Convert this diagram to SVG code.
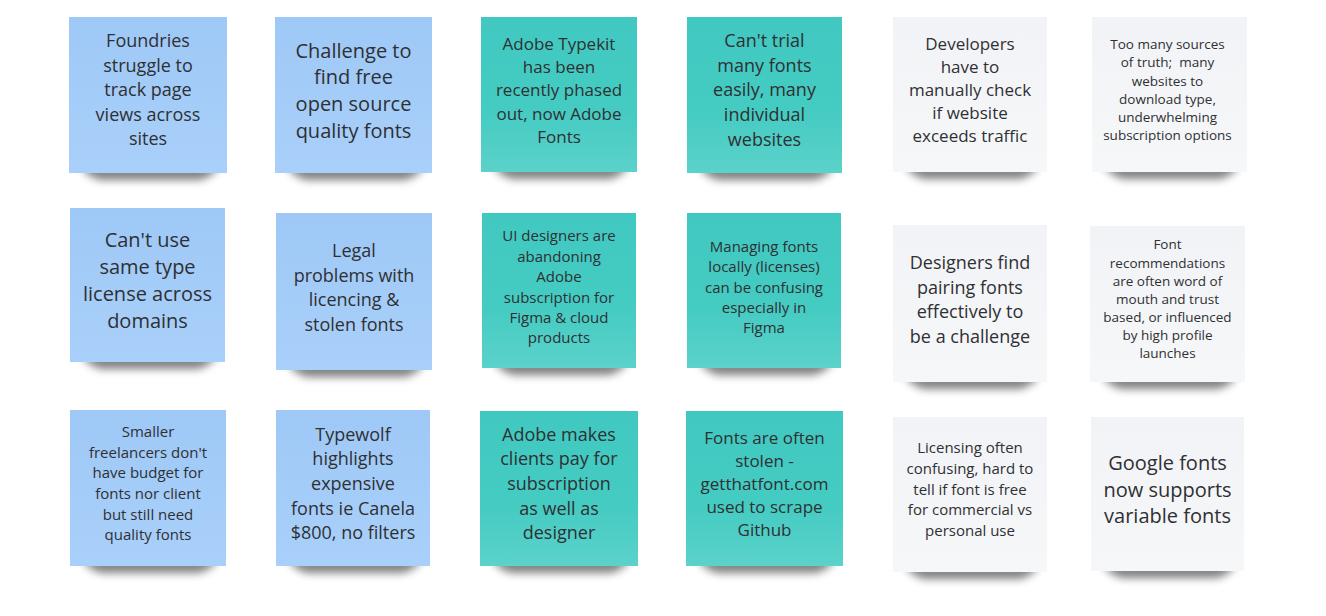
<svg xmlns="http://www.w3.org/2000/svg" width="1326" height="616" viewBox="0 0 1326 616">
<style>
text{font-family:"Open Sans","Noto Sans","Liberation Sans",sans-serif;fill:#2f3033;text-anchor:middle}
.s20{font-size:20px}.s18{font-size:18px}.s17{font-size:17px}.s15{font-size:15px}.s13{font-size:13.5px}
.blue{fill:url(#gBlue)}.teal{fill:url(#gTeal)}.white{fill:url(#gWhite)}
.sh{fill:#000;opacity:0.5;filter:url(#blur)}
</style>
<defs>
<linearGradient id="gBlue" x1="0" y1="0" x2="0" y2="1"><stop offset="0" stop-color="#9ec8f6"/><stop offset="1" stop-color="#a9d0fa"/></linearGradient>
<linearGradient id="gTeal" x1="0" y1="0" x2="0" y2="1"><stop offset="0" stop-color="#41c9c1"/><stop offset="0.6" stop-color="#44cbc2"/><stop offset="1" stop-color="#5bd2ca"/></linearGradient>
<linearGradient id="gWhite" x1="0" y1="0" x2="0" y2="1"><stop offset="0" stop-color="#f2f3f6"/><stop offset="1" stop-color="#f6f7f9"/></linearGradient>
<filter id="blur" x="-20%" y="-100%" width="140%" height="300%"><feGaussianBlur stdDeviation="4.5"/></filter>
</defs>

<g id="note1"><path class="sh" d="M81 166 H219 Q214 176 200 180 H100 Q86 176 81 166Z"/><rect class="blue" x="69" y="17" width="158" height="156"/>
<text class="s18"><tspan x="148" y="47">Foundries</tspan><tspan x="148" y="71.5">struggle to</tspan><tspan x="148" y="96">track page</tspan><tspan x="148" y="120.5">views across</tspan><tspan x="148" y="145">sites</tspan></text></g>

<g id="note2"><path class="sh" d="M287 166 H424 Q419 176 405 180 H306 Q292 176 287 166Z"/><rect class="blue" x="275" y="17" width="157" height="156"/>
<text class="s20"><tspan x="353.5" y="57.5">Challenge to</tspan><tspan x="353.5" y="84.3">find free</tspan><tspan x="353.5" y="111.1">open source</tspan><tspan x="353.5" y="138">quality fonts</tspan></text></g>

<g id="note3"><path class="sh" d="M493 165 H629 Q624 175 610 179 H512 Q498 175 493 165Z"/><rect class="teal" x="481" y="17" width="156" height="155"/>
<text class="s17"><tspan x="559" y="50">Adobe Typekit</tspan><tspan x="559" y="73.2">has been</tspan><tspan x="559" y="96.4">recently phased</tspan><tspan x="559" y="119.6">out, now Adobe</tspan><tspan x="559" y="142.8">Fonts</tspan></text></g>

<g id="note4"><path class="sh" d="M699 166 H834 Q829 176 815 180 H718 Q704 176 699 166Z"/><rect class="teal" x="687" y="17" width="155" height="156"/>
<text class="s18"><tspan x="764.5" y="46.7">Can't trial</tspan><tspan x="764.5" y="71.5">many fonts</tspan><tspan x="764.5" y="96.3">easily, many</tspan><tspan x="764.5" y="121.1">individual</tspan><tspan x="764.5" y="146">websites</tspan></text></g>

<g id="note5"><path class="sh" d="M905 165 H1039 Q1034 175 1020 179 H924 Q910 175 905 165Z"/><rect class="white" x="893" y="17" width="154" height="155"/>
<text class="s17"><tspan x="970" y="50">Developers</tspan><tspan x="970" y="73.1">have to</tspan><tspan x="970" y="96.2">manually check</tspan><tspan x="970" y="119.3">if website</tspan><tspan x="970" y="142.3">exceeds traffic</tspan></text></g>

<g id="note6"><path class="sh" d="M1104 165 H1239 Q1234 175 1220 179 H1123 Q1109 175 1104 165Z"/><rect class="white" x="1092" y="17" width="155" height="155"/>
<text class="s13"><tspan x="1167.5" y="49.3">Too many sources</tspan><tspan x="1167.5" y="67.4">of truth;&#160; many</tspan><tspan x="1167.5" y="85.5">websites to</tspan><tspan x="1167.5" y="103.6">download type,</tspan><tspan x="1167.5" y="121.8">underwhelming</tspan><tspan x="1167.5" y="140">subscription options</tspan></text></g>

<g id="note7"><path class="sh" d="M82 355 H217 Q212 365 198 369 H101 Q87 365 82 355Z"/><rect class="blue" x="70" y="208" width="155" height="154"/>
<text class="s20"><tspan x="147.5" y="246.7">Can't use</tspan><tspan x="147.5" y="273.9">same type</tspan><tspan x="147.5" y="301.1">license across</tspan><tspan x="147.5" y="328.3">domains</tspan></text></g>

<g id="note8"><path class="sh" d="M288 363 H424 Q419 373 405 377 H307 Q293 373 288 363Z"/><rect class="blue" x="276" y="213" width="156" height="157"/>
<text class="s18"><tspan x="354" y="256.7">Legal</tspan><tspan x="354" y="281.5">problems with</tspan><tspan x="354" y="306.2">licencing &amp;</tspan><tspan x="354" y="331">stolen fonts</tspan></text></g>

<g id="note9"><path class="sh" d="M494 361 H628 Q623 371 609 375 H513 Q499 371 494 361Z"/><rect class="teal" x="482" y="213" width="154" height="155"/>
<text class="s15"><tspan x="559" y="241">UI designers are</tspan><tspan x="559" y="261.5">abandoning</tspan><tspan x="559" y="282">Adobe</tspan><tspan x="559" y="302.5">subscription for</tspan><tspan x="559" y="323">Figma &amp; cloud</tspan><tspan x="559" y="343.3">products</tspan></text></g>

<g id="note10"><path class="sh" d="M699 361 H833 Q828 371 814 375 H718 Q704 371 699 361Z"/><rect class="teal" x="687" y="213" width="154" height="155"/>
<text class="s15"><tspan x="764" y="251.7">Managing fonts</tspan><tspan x="764" y="272.1">locally (licenses)</tspan><tspan x="764" y="292.5">can be confusing</tspan><tspan x="764" y="312.9">especially in</tspan><tspan x="764" y="333.3">Figma</tspan></text></g>

<g id="note11"><path class="sh" d="M905 375 H1039 Q1034 385 1020 389 H924 Q910 385 905 375Z"/><rect class="white" x="893" y="225" width="154" height="157"/>
<text class="s18"><tspan x="970" y="269.3">Designers find</tspan><tspan x="970" y="293.8">pairing fonts</tspan><tspan x="970" y="318.2">effectively to</tspan><tspan x="970" y="342.7">be a challenge</tspan></text></g>

<g id="note12"><path class="sh" d="M1102 375 H1237 Q1232 385 1218 389 H1121 Q1107 385 1102 375Z"/><rect class="white" x="1090" y="226" width="155" height="156"/>
<text class="s13"><tspan x="1167.5" y="249.3">Font</tspan><tspan x="1167.5" y="267.5">recommendations</tspan><tspan x="1167.5" y="285.7">are often word of</tspan><tspan x="1167.5" y="303.8">mouth and trust</tspan><tspan x="1167.5" y="322">based, or influenced</tspan><tspan x="1167.5" y="340.2">by high profile</tspan><tspan x="1167.5" y="358.3">launches</tspan></text></g>

<g id="note13"><path class="sh" d="M82 559 H218 Q213 569 199 573 H101 Q87 569 82 559Z"/><rect class="blue" x="70" y="410" width="156" height="156"/>
<text class="s15"><tspan x="148" y="437.3">Smaller</tspan><tspan x="148" y="457.8">freelancers don't</tspan><tspan x="148" y="478.4">have budget for</tspan><tspan x="148" y="498.9">fonts nor client</tspan><tspan x="148" y="519.5">but still need</tspan><tspan x="148" y="540">quality fonts</tspan></text></g>

<g id="note14"><path class="sh" d="M288 559 H422 Q417 569 403 573 H307 Q293 569 288 559Z"/><rect class="blue" x="276" y="410" width="154" height="156"/>
<text class="s18"><tspan x="353" y="440.7">Typewolf</tspan><tspan x="353" y="465.3">highlights</tspan><tspan x="353" y="490">expensive</tspan><tspan x="353" y="514.6">fonts ie Canela</tspan><tspan x="353" y="539.3">$800, no filters</tspan></text></g>

<g id="note15"><path class="sh" d="M492 559 H630 Q625 569 611 573 H511 Q497 569 492 559Z"/><rect class="teal" x="480" y="411" width="158" height="155"/>
<text class="s18"><tspan x="559" y="440.7">Adobe makes</tspan><tspan x="559" y="465.3">clients pay for</tspan><tspan x="559" y="490">subscription</tspan><tspan x="559" y="514.6">as well as</tspan><tspan x="559" y="539.3">designer</tspan></text></g>

<g id="note16"><path class="sh" d="M698 559 H835 Q830 569 816 573 H717 Q703 569 698 559Z"/><rect class="teal" x="686" y="411" width="157" height="155"/>
<text class="s17"><tspan x="764.5" y="444">Fonts are often</tspan><tspan x="764.5" y="467">stolen -</tspan><tspan x="764.5" y="490">getthatfont.com</tspan><tspan x="764.5" y="513">used to scrape</tspan><tspan x="764.5" y="536">Github</tspan></text></g>

<g id="note17"><path class="sh" d="M905 565 H1039 Q1034 575 1020 579 H924 Q910 575 905 565Z"/><rect class="white" x="893" y="417" width="154" height="155"/>
<text class="s15"><tspan x="970" y="453.3">Licensing often</tspan><tspan x="970" y="474">confusing, hard to</tspan><tspan x="970" y="494.7">tell if font is free</tspan><tspan x="970" y="515.3">for commercial vs</tspan><tspan x="970" y="536">personal use</tspan></text></g>

<g id="note18"><path class="sh" d="M1103 564 H1236 Q1231 574 1217 578 H1122 Q1108 574 1103 564Z"/><rect class="white" x="1091" y="417" width="153" height="154"/>
<text class="s20"><tspan x="1167.5" y="470">Google fonts</tspan><tspan x="1167.5" y="496.7">now supports</tspan><tspan x="1167.5" y="523.3">variable fonts</tspan></text></g>

<g id="connectors"/>
</svg>
